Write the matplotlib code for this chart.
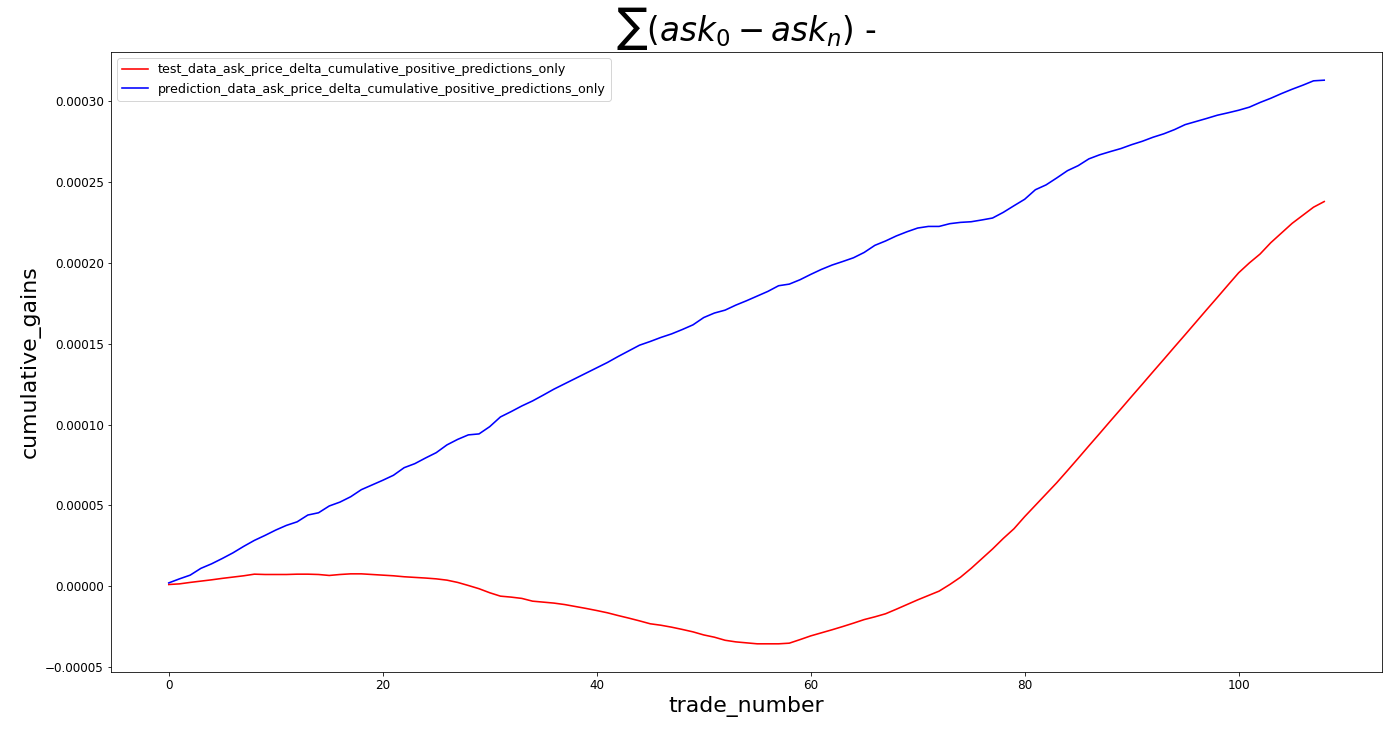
import matplotlib
matplotlib.use("Agg")
import matplotlib.pyplot as plt
import numpy as np

trade_number = list(range(109))

test_data_gains_e6 = [
    1.0, 1.4, 2.3, 3.1, 3.9, 4.8, 5.6, 6.4, 7.4, 7.2,
    7.2, 7.2, 7.4, 7.4, 7.2, 6.6, 7.2, 7.6, 7.6, 7.2,
    6.8, 6.4, 5.8, 5.4, 5.0, 4.5, 3.7, 2.3, 0.4, -1.6,
    -4.1, -6.2, -6.8, -7.6, -9.3, -9.9, -10.5, -11.4, -12.6, -13.8,
    -15.1, -16.5, -18.2, -19.8, -21.5, -23.3, -24.2, -25.4, -26.8, -28.3,
    -30.2, -31.6, -33.5, -34.5, -35.1, -35.7, -35.7, -35.7, -35.3, -33.1,
    -30.8, -28.9, -27.0, -25.0, -22.9, -20.7, -19.0, -17.1, -14.3, -11.4,
    -8.5, -5.8, -3.1, 1.0, 5.5, 11.0, 17.0, 23.0, 29.5, 35.5,
    43.0, 50.0, 57.0, 64.0, 71.5, 79.1, 86.8, 94.4, 102.1, 109.7,
    117.4, 125.0, 132.7, 140.3, 148.0, 155.6, 163.3, 171.0, 178.6, 186.3,
    193.9, 200.0, 205.5, 212.5, 218.5, 224.5, 229.5, 234.5, 238.0,
]

prediction_data_gains_e6 = [
    2.0, 4.5, 6.8, 11.0, 13.8, 17.1, 20.6, 24.6, 28.3, 31.4,
    34.7, 37.6, 39.8, 44.0, 45.4, 49.6, 52.0, 55.3, 59.7, 62.6,
    65.5, 68.6, 73.3, 75.8, 79.3, 82.6, 87.4, 90.8, 93.6, 94.2,
    98.7, 104.7, 108.0, 111.5, 114.6, 118.2, 121.9, 125.2, 128.5, 131.8,
    135.1, 138.4, 142.1, 145.6, 149.1, 151.4, 153.9, 156.1, 158.8, 161.7,
    166.2, 169.0, 170.8, 173.9, 176.6, 179.5, 182.4, 185.9, 186.9, 189.6,
    192.9, 196.0, 198.7, 200.9, 203.2, 206.5, 210.9, 213.6, 216.7, 219.3,
    221.6, 222.6, 222.6, 224.3, 225.1, 225.5, 226.6, 227.8, 231.3, 235.4,
    239.4, 245.3, 248.3, 252.6, 257.1, 260.2, 264.4, 266.9, 268.9, 270.8,
    273.2, 275.3, 277.8, 279.9, 282.5, 285.6, 287.5, 289.4, 291.4, 292.9,
    294.5, 296.4, 299.3, 301.9, 304.8, 307.5, 310.0, 312.7, 313.1,
]

labels = [
    "test_data_ask_price_delta_cumulative_positive_predictions_only",
    "prediction_data_ask_price_delta_cumulative_positive_predictions_only",
]

test_vals = np.array(test_data_gains_e6) * 1e-6
pred_vals = np.array(prediction_data_gains_e6) * 1e-6

fig = plt.figure(figsize=(1400 / 72, 747 / 72), dpi=72)
ax = fig.add_axes([111 / 1400, 1 - 672 / 747, (1382 - 111) / 1400, (672 - 52) / 747])

ax.plot(trade_number, test_vals, color="red", linewidth=1.6, label=labels[0])
ax.plot(trade_number, pred_vals, color="blue", linewidth=1.6, label=labels[1])

ax.set_title(r"$\sum(ask_0 - ask_n)$ -", fontsize=32.5, pad=4)
ax.set_xlabel("trade_number", fontsize=22)
ax.set_ylabel("cumulative_gains", fontsize=22)
ax.tick_params(labelsize=12)
ax.legend(loc="upper left", fontsize=12.6)

fig.savefig("out.png", dpi=72)
